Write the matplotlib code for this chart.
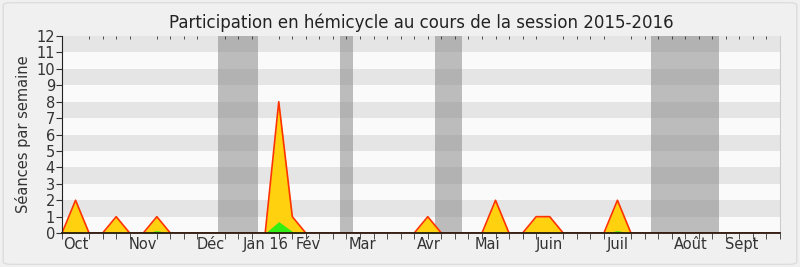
import matplotlib
matplotlib.use("Agg")
import matplotlib.pyplot as plt
from matplotlib.patches import FancyBboxPatch
import numpy as np

weeks = list(range(0, 54))
total = [0, 2, 0, 0, 1, 0, 0, 1, 0, 0, 0, 0, 0, 0, 0, 0, 8, 1, 0, 0,
         0, 0, 0, 0, 0, 0, 0, 1, 0, 0, 0, 0, 2, 0, 0, 1, 1, 0, 0, 0,
         0, 2, 0, 0, 0, 0, 0, 0, 0, 0, 0, 0, 0, 0]
green = [0, 0.05, 0, 0, 0.05, 0, 0, 0.15, 0, 0, 0, 0, 0, 0, 0, 0, 0.7, 0.1, 0, 0,
         0, 0, 0, 0, 0, 0, 0, 0.1, 0, 0, 0, 0, 0.05, 0, 0, 0.05, 0.05, 0, 0, 0,
         0, 0.15, 0, 0, 0, 0, 0, 0, 0, 0, 0, 0, 0, 0]
month_labels = ["Oct", "Nov", "Déc", "Jan 16", "Fév", "Mar", "Avr", "Mai", "Juin", "Juil", "Août", "Sept"]
month_pos = [1, 6, 11, 15, 18.2, 22.2, 27.1, 31.4, 36, 41, 46.4, 50.2]
holidays = [(11.5, 14.5), (20.5, 21.5), (27.5, 29.5), (43.5, 48.5)]

fig = plt.figure(figsize=(8, 2.67), dpi=100)
fig.patch.set_facecolor("#f0f0f0")
fig.patches.append(FancyBboxPatch((0.004, 0.01), 0.992, 0.98, boxstyle="round,pad=0,rounding_size=0.01",
                                  transform=fig.transFigure, facecolor="none", edgecolor="#dddddd", lw=1))
ax = fig.add_axes([0.0775, 0.127, 0.8975, 0.738])
ax.set_xlim(0, 53)
ax.set_ylim(0, 12)
ax.set_facecolor("#fafafa")
for y in range(1, 12, 2):
    ax.axhspan(y, y + 1, color="#e5e5e5", lw=0, zorder=0)
for a, b in holidays:
    ax.axvspan(a, b, color="#808080", alpha=0.5, lw=0, zorder=1)

ax.fill_between(weeks, total, color="#ffd10f", lw=0, zorder=2)
ax.plot(weeks, total, color="#ff3300", lw=1.2, zorder=2.2)
ax.fill_between(weeks, green, color="#33ee11", lw=0, zorder=2.3)

ax.set_yticks(range(0, 13))
ax.tick_params(axis="y", labelsize=10.5, length=4, pad=1, colors="#333333")
ax.set_xticks(np.arange(0, 54, 1), minor=True)
ax.set_xticks(month_pos)
ax.set_xticklabels(month_labels)
ax.tick_params(axis="x", which="major", length=0, labelsize=10.5, pad=3, colors="#333333")
ax.tick_params(axis="x", which="minor", length=4, top=True, direction="out", color="#333333")
for t in ax.xaxis.get_minor_ticks():
    t.tick2line.set_markersize(2)
    t.tick2line.set_marker(matplotlib.markers.TICKDOWN)
ax.set_ylabel("Séances par semaine", fontsize=10.5, color="#333333", labelpad=4)
ax.set_title("Participation en hémicycle au cours de la session 2015-2016", fontsize=12, color="#222222", pad=6)

ax.spines["top"].set_visible(False)
ax.spines["right"].set_color("#cccccc")
ax.spines["left"].set_color("#222222")
ax.spines["bottom"].set_color("#2a1a10")
ax.spines["bottom"].set_linewidth(1.3)
for s in ax.spines.values():
    s.set_zorder(5)

fig.savefig("out.png", dpi=100, facecolor=fig.get_facecolor())
